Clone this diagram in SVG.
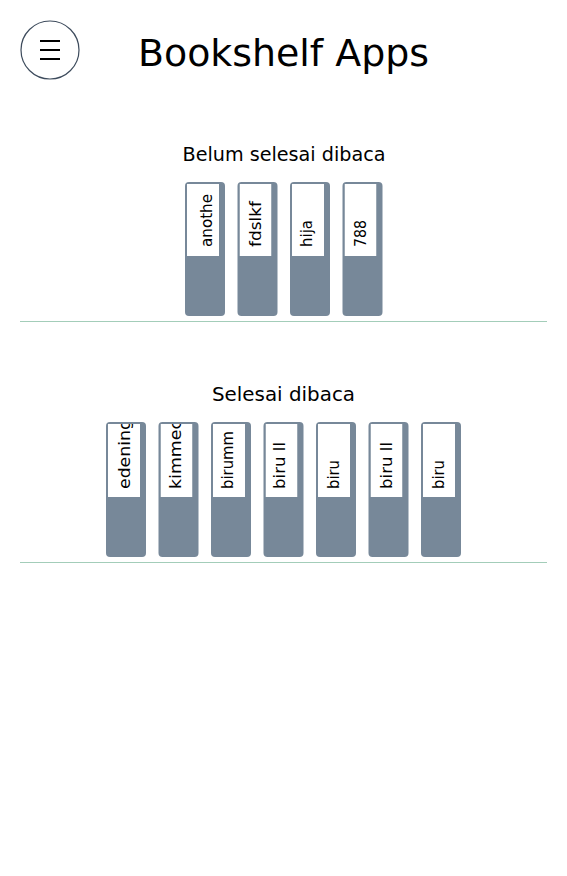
<svg xmlns="http://www.w3.org/2000/svg" width="567" height="876" viewBox="0 0 567 876">
<style>
  text { font-family: "DejaVu Sans", "Liberation Sans", sans-serif; fill: #000; }
  .title { font-size: 38px; }
  .heading { font-size: 19px; text-anchor: middle; }
  .spine { fill: #778899; }
  .label { fill: #ffffff; }
  .btitle { font-size: 15.5px; }
  .shelf-line { stroke: #a3cdb9; stroke-width: 1; }
  .menu-circle { fill: #ffffff; stroke: #3d4b5c; stroke-width: 1.2; }
  .menu-bar { stroke: #000; stroke-width: 2; }
</style>
<rect width="567" height="876" fill="#ffffff"/>

<g id="menu-button">
  <circle class="menu-circle" cx="50" cy="50" r="29"/>
  <line class="menu-bar" x1="40" y1="41" x2="60" y2="41"/>
  <line class="menu-bar" x1="40" y1="50" x2="60" y2="50"/>
  <line class="menu-bar" x1="40" y1="59" x2="60" y2="59"/>
</g>
<g id="app-title">
  <text class="title" x="138" y="66" textLength="291" lengthAdjust="spacingAndGlyphs">Bookshelf Apps</text>
</g>

<g id="shelf-unread">
  <text class="heading" x="284" y="161" textLength="203" lengthAdjust="spacingAndGlyphs">Belum selesai dibaca</text>
  <g id="book-anothe" transform="translate(185,182)">
    <rect class="spine" width="40" height="134" rx="4"/>
    <svg x="2" y="2" width="32" height="72"><rect class="label" width="32" height="72"/>
      <text class="btitle" transform="translate(25,63) rotate(-90)" textLength="53" lengthAdjust="spacingAndGlyphs">anothe</text></svg>
  </g>
  <g id="book-fdslkf" transform="translate(237.5,182)">
    <rect class="spine" width="40" height="134" rx="4"/>
    <svg x="2" y="2" width="32" height="72"><rect class="label" width="32" height="72"/>
      <text class="btitle" transform="translate(21,63) rotate(-90)" textLength="46" lengthAdjust="spacingAndGlyphs">fdslkf</text></svg>
  </g>
  <g id="book-hija" transform="translate(290,182)">
    <rect class="spine" width="40" height="134" rx="4"/>
    <svg x="2" y="2" width="32" height="72"><rect class="label" width="32" height="72"/>
      <text class="btitle" transform="translate(20,63) rotate(-90)" textLength="27" lengthAdjust="spacingAndGlyphs">hija</text></svg>
  </g>
  <g id="book-788" transform="translate(342.5,182)">
    <rect class="spine" width="40" height="134" rx="4"/>
    <svg x="2" y="2" width="32" height="72"><rect class="label" width="32" height="72"/>
      <text class="btitle" transform="translate(21,63) rotate(-90)" textLength="27" lengthAdjust="spacingAndGlyphs">788</text></svg>
  </g>
</g>

<g id="shelf-read">
  <text class="heading" x="283.5" y="401" textLength="143" lengthAdjust="spacingAndGlyphs">Selesai dibaca</text>
  <g id="book-edening" transform="translate(106,422)">
    <rect class="spine" width="40" height="135" rx="4"/>
    <svg x="2" y="2" width="32" height="73"><rect class="label" width="32" height="73"/>
      <text class="btitle" transform="translate(22,65) rotate(-90)" textLength="70" lengthAdjust="spacingAndGlyphs">edening</text></svg>
  </g>
  <g id="book-kimmec" transform="translate(158.5,422)">
    <rect class="spine" width="40" height="135" rx="4"/>
    <svg x="2" y="2" width="32" height="73"><rect class="label" width="32" height="73"/>
      <text class="btitle" transform="translate(20,65) rotate(-90)" textLength="69" lengthAdjust="spacingAndGlyphs">kimmec</text></svg>
  </g>
  <g id="book-birumm" transform="translate(211,422)">
    <rect class="spine" width="40" height="135" rx="4"/>
    <svg x="2" y="2" width="32" height="73"><rect class="label" width="32" height="73"/>
      <text class="btitle" transform="translate(19.5,65) rotate(-90)" textLength="58" lengthAdjust="spacingAndGlyphs">birumm</text></svg>
  </g>
  <g id="book-biru-ll-1" transform="translate(263.5,422)">
    <rect class="spine" width="40" height="135" rx="4"/>
    <svg x="2" y="2" width="32" height="73"><rect class="label" width="32" height="73"/>
      <text class="btitle" transform="translate(19.5,65) rotate(-90)" textLength="47" lengthAdjust="spacingAndGlyphs">biru ll</text></svg>
  </g>
  <g id="book-biru-1" transform="translate(316,422)">
    <rect class="spine" width="40" height="135" rx="4"/>
    <svg x="2" y="2" width="32" height="73"><rect class="label" width="32" height="73"/>
      <text class="btitle" transform="translate(20.5,65) rotate(-90)" textLength="29" lengthAdjust="spacingAndGlyphs">biru</text></svg>
  </g>
  <g id="book-biru-ll-2" transform="translate(368.5,422)">
    <rect class="spine" width="40" height="135" rx="4"/>
    <svg x="2" y="2" width="32" height="73"><rect class="label" width="32" height="73"/>
      <text class="btitle" transform="translate(21,65) rotate(-90)" textLength="47" lengthAdjust="spacingAndGlyphs">biru ll</text></svg>
  </g>
  <g id="book-biru-2" transform="translate(421,422)">
    <rect class="spine" width="40" height="135" rx="4"/>
    <svg x="2" y="2" width="32" height="73"><rect class="label" width="32" height="73"/>
      <text class="btitle" transform="translate(20.5,65) rotate(-90)" textLength="29" lengthAdjust="spacingAndGlyphs">biru</text></svg>
  </g>
</g>

<g id="connectors">
  <line class="shelf-line" x1="20" y1="321.5" x2="547" y2="321.5"/>
  <line class="shelf-line" x1="20" y1="562.5" x2="547" y2="562.5"/>
</g>
</svg>
